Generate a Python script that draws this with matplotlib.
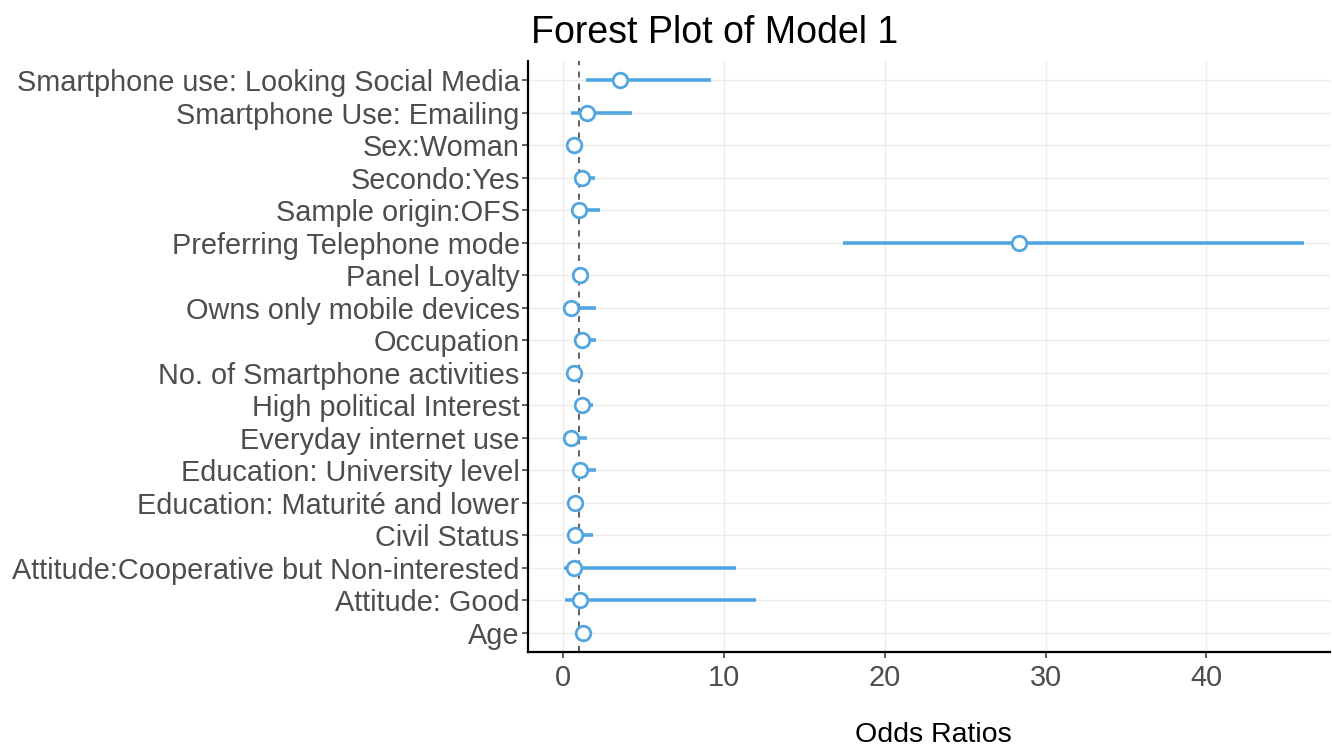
import matplotlib
matplotlib.use("Agg")
import matplotlib.pyplot as plt
import numpy as np

labels = [
    "Smartphone use: Looking Social Media",
    "Smartphone Use: Emailing",
    "Sex:Woman",
    "Secondo:Yes",
    "Sample origin:OFS",
    "Preferring Telephone mode",
    "Panel Loyalty",
    "Owns only mobile devices",
    "Occupation",
    "No. of Smartphone activities",
    "High political Interest",
    "Everyday internet use",
    "Education: University level",
    "Education: Maturité and lower",
    "Civil Status",
    "Attitude:Cooperative but Non-interested",
    "Attitude: Good",
    "Age",
]
odds = [3.55, 1.46, 0.67, 1.19, 0.98, 28.35, 1.04, 0.46, 1.13, 0.67, 1.19, 0.50, 1.04, 0.73, 0.71, 0.67, 1.04, 1.20]
lower = [1.40, 0.46, 0.50, 0.75, 0.52, 17.40, 0.90, 0.20, 0.65, 0.55, 0.80, 0.20, 0.60, 0.45, 0.40, 0.04, 0.09, 1.12]
upper = [9.20, 4.27, 0.85, 1.98, 2.29, 46.10, 1.20, 2.02, 2.02, 0.80, 1.86, 1.46, 2.02, 1.25, 1.86, 10.77, 12.00, 1.28]
xticks = [0, 10, 20, 30, 40]

plt.rcParams['font.family'] = ['Liberation Sans', 'DejaVu Sans']

fig = plt.figure(figsize=(13.32, 7.49), dpi=100)
ax = fig.add_axes([528/1332, 1 - 652/749, (1330-528)/1332, (652-61)/749])

n = len(labels)
y = np.arange(n)[::-1]
blue = "#52A6E0"

ax.axvline(1, color="#333333", linestyle=(0, (4, 4)), linewidth=1.1, zorder=2)
ax.hlines(y, lower, upper, color=blue, linewidth=2.6, zorder=3)
ax.plot(odds, y, linestyle="none", marker="o", markersize=10.5,
        markerfacecolor="white", markeredgecolor=blue, markeredgewidth=2.0, zorder=4)

ax.set_yticks(y)
ax.set_yticklabels(labels)
ax.set_ylim(-0.6, n - 1 + 0.6)
ax.set_xticks(xticks)
ax.set_xlim(-2.2, 47.7)

ax.grid(True, color="#ebebeb", linewidth=1.0, zorder=0)
ax.set_axisbelow(True)
for s in ["top", "right"]:
    ax.spines[s].set_visible(False)
for s in ["left", "bottom"]:
    ax.spines[s].set_linewidth(1.6)
    ax.spines[s].set_color("black")

ax.tick_params(axis="both", labelsize=20.8, labelcolor="#4d4d4d", color="#333333",
               length=4, width=1.1)
ax.tick_params(axis="x", pad=5)
ax.tick_params(axis="y", pad=2)

fig.text(715/1332, 1 - 33/749, "Forest Plot of Model 1", ha="center", va="center",
         fontsize=27, color="black")
fig.text(933/1332, 1 - 735/749, "Odds Ratios", ha="center", va="center",
         fontsize=20.5, color="black")

fig.savefig("out.png", dpi=100)
